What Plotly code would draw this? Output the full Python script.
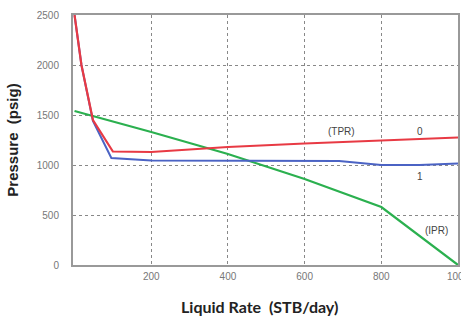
import plotly.graph_objects as go

# TPR curve 0 (red)
tpr0_x = [0, 18, 48, 100, 200, 400, 600, 800, 1000]
tpr0_y = [2500, 2000, 1450, 1135, 1130, 1180, 1215, 1245, 1275]

# TPR curve 1 (blue)
tpr1_x = [0, 18, 48, 96, 200, 400, 600, 690, 800, 900, 1000]
tpr1_y = [2500, 2000, 1440, 1070, 1045, 1040, 1040, 1040, 1000, 1000, 1015]

# IPR curve (green)
ipr_x = [0, 200, 400, 600, 800, 1000]
ipr_y = [1540, 1330, 1110, 860, 580, 0]

x_ticks = [200, 400, 600, 800, 1000]
y_ticks = [0, 500, 1000, 1500, 2000, 2500]

labels = [
    {"text": "(TPR)", "x": 697, "y": 1335},
    {"text": "0", "x": 901, "y": 1340},
    {"text": "1", "x": 901, "y": 885},
    {"text": "(IPR)", "x": 944, "y": 350},
]

fig = go.Figure()
fig.add_trace(go.Scatter(x=ipr_x, y=ipr_y, mode="lines",
                         line=dict(color="#2bb04f", width=2.2), showlegend=False))
fig.add_trace(go.Scatter(x=tpr1_x, y=tpr1_y, mode="lines",
                         line=dict(color="#4b63c4", width=2), showlegend=False))
fig.add_trace(go.Scatter(x=tpr0_x, y=tpr0_y, mode="lines",
                         line=dict(color="#e83a44", width=2.2), showlegend=False))

for lb in labels:
    fig.add_annotation(x=lb["x"], y=lb["y"], text=lb["text"], showarrow=False,
                       font=dict(family="Liberation Sans", size=10, color="#444"))

# x-axis title placed under the tick labels
fig.add_annotation(x=0.485, y=0, xref="paper", yref="paper", yanchor="middle",
                   yshift=-41, showarrow=False,
                   text="<b>Liquid Rate  (STB/day)</b>",
                   font=dict(family="Lato", size=16, color="#222"))

fig.update_layout(
    width=461, height=321,
    margin=dict(l=73, r=3, t=15, b=56),
    paper_bgcolor="white", plot_bgcolor="white",
    font=dict(family="Liberation Sans", size=10, color="#777"),
)
fig.update_xaxes(
    range=[-4, 1000], tickvals=x_ticks, ticktext=[str(v) for v in x_ticks],
    showgrid=True, gridcolor="#888", griddash="dot", gridwidth=1,
    showline=True, linecolor="#999", linewidth=2, mirror=True,
    zeroline=False, ticks="", ticklabelstandoff=1, ticklabeloverflow="allow",
    automargin=False,
)
fig.update_yaxes(
    range=[0, 2500], tickvals=y_ticks, ticktext=[str(v) for v in y_ticks],
    showgrid=True, gridcolor="#888", griddash="dot", gridwidth=1,
    showline=True, linecolor="#999", linewidth=2, mirror=True,
    zeroline=False, ticks="", ticklabelstandoff=10,
    title=dict(text="<b>Pressure  (psig)</b>", standoff=15,
               font=dict(family="Liberation Sans", size=15, color="#222")),
    automargin=False,
)

fig.write_html("out.html", config={"displayModeBar": False},
               post_script="document.body.style.margin='0';document.body.style.overflow='hidden';")
